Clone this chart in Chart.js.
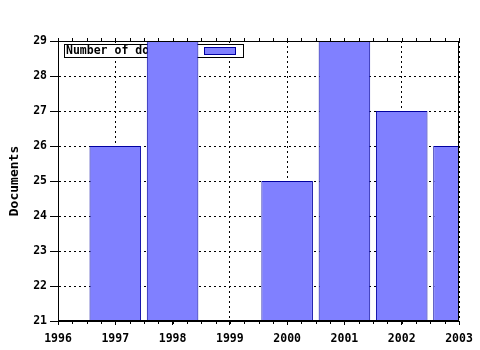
<!DOCTYPE html>
<html>
<head>
<meta charset="utf-8">
<script src="https://cdn.jsdelivr.net/npm/chart.js@4/dist/chart.umd.min.js"></script>
<style>
  body { margin: 0; background: #fff; }
  canvas { display: block; }
</style>
</head>
<body>
<canvas id="docChart" width="480" height="350"></canvas>
<script>
// values (1996 and 1999 have no bar)
var years = [1997, 1998, 2000, 2001, 2002, 2003]
var docs = [26, 29, 25, 29, 27, 26]
var seriesLabel = 'Number of documents'
var yTitle = 'Documents'
var xMin = 1996, xMax = 2003
var yMin = 21, yMax = 29

var monoFont = '"DejaVu Sans Mono", "Liberation Mono", monospace'

var points = []
for (var i = 0; i < years.length; i++) {
  points.push({x: years[i], y: docs[i]})
}

// legend box drawn under the bars, frame and minor ticks drawn on top
var boxLegend = {
  id: 'boxLegend',
  beforeDatasetsDraw: function(chart) {
    var ctx = chart.ctx
    var area = chart.chartArea
    var ds = chart.data.datasets[0]
    ctx.save()
    ctx.font = 'bold 11.5px ' + monoFont
    var tw = ctx.measureText(ds.label).width
    var x = Math.round(area.left) + 6
    var y = Math.round(area.top) + 3
    var symX = Math.round(x + 2 + tw + 6)
    var w = symX + 31 + 8 - x
    var h = 13
    ctx.fillStyle = '#fff'
    ctx.fillRect(x, y, w, h)
    ctx.strokeStyle = '#000'
    ctx.lineWidth = 1
    ctx.strokeRect(x + 0.5, y + 0.5, w, h)
    ctx.fillStyle = '#000'
    ctx.textBaseline = 'middle'
    ctx.fillText(ds.label, x + 2, y + h / 2 + 1)
    ctx.fillStyle = ds.backgroundColor
    ctx.fillRect(symX, y + 3, 31, 7)
    ctx.strokeStyle = ds.borderColor
    ctx.strokeRect(symX + 0.5, y + 3.5, 31, 7)
    ctx.restore()
  },
  afterDatasetsDraw: function(chart) {
    var ctx = chart.ctx
    var area = chart.chartArea
    var xs = chart.scales.x
    ctx.save()
    ctx.strokeStyle = '#000'
    ctx.lineWidth = 1
    ctx.strokeRect(Math.round(area.left) + 0.5, Math.round(area.top) + 0.5,
      Math.round(area.right - area.left) - 1, Math.round(area.bottom - area.top) - 1)
    ctx.beginPath()
    for (var v = xMin; v <= xMax + 0.001; v += 0.25) {
      var px = Math.round(xs.getPixelForValue(v)) + 0.5
      ctx.moveTo(px, Math.round(area.bottom))
      ctx.lineTo(px, Math.round(area.bottom) + 3)
      ctx.moveTo(px, Math.round(area.top))
      ctx.lineTo(px, Math.round(area.top) - 3)
    }
    ctx.stroke()
    ctx.restore()
  }
}

new Chart(document.getElementById('docChart'), {
  type: 'bar',
  data: {
    datasets: [{
      label: seriesLabel,
      data: points,
      backgroundColor: '#8080ff',
      borderColor: '#0000a0',
      borderWidth: 1,
      borderSkipped: false,
      categoryPercentage: 1,
      barPercentage: 0.9,
      clip: 0
    }]
  },
  options: {
    responsive: false,
    devicePixelRatio: 1,
    animation: false,
    layout: { padding: { left: 0, top: 41, right: 21, bottom: 0 } },
    plugins: {
      legend: { display: false },
      tooltip: { enabled: false }
    },
    scales: {
      x: {
        type: 'linear',
        min: xMin,
        max: xMax,
        offset: false,
        afterFit: function(scale) { scale.height = 29 },
        grid: {
          offset: false,
          color: '#000',
          lineWidth: 1,
          tickLength: 4,
          tickColor: '#000',
          tickBorderDash: []
        },
        border: { color: '#000', dash: [2, 3] },
        ticks: {
          stepSize: 1,
          autoSkip: false,
          maxRotation: 0,
          padding: 7,
          color: '#000',
          font: { family: monoFont, size: 11.5, weight: 'bold' },
          callback: function(v) { return String(v) }
        }
      },
      y: {
        min: yMin,
        max: yMax,
        afterFit: function(scale) { scale.width = 58 },
        grid: {
          color: '#000',
          lineWidth: 1,
          tickLength: 8,
          tickColor: '#000',
          tickBorderDash: []
        },
        border: { color: '#000', dash: [2, 3] },
        ticks: {
          stepSize: 1,
          padding: 3,
          color: '#000',
          font: { family: monoFont, size: 11.5, weight: 'bold' }
        },
        title: {
          display: true,
          text: yTitle,
          color: '#000',
          padding: { top: 7, bottom: 0 },
          font: { family: monoFont, size: 13, weight: 'bold' }
        }
      }
    }
  },
  plugins: [boxLegend]
})
</script>
</body>
</html>
